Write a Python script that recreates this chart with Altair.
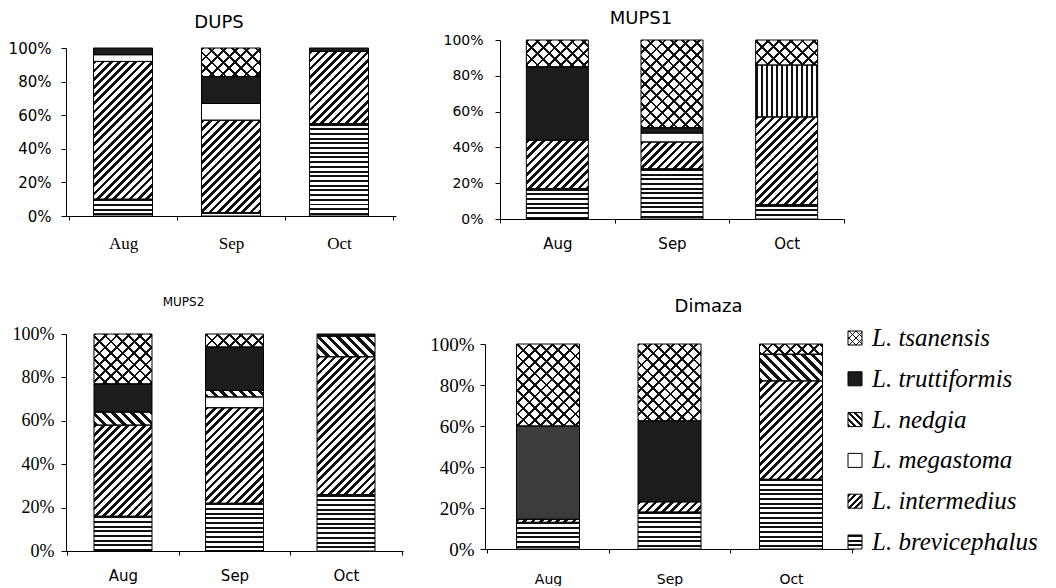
import math
import altair as alt
import pandas as pd

# ---------------- data (percent of catch) ----------------
MONTHS = ["Aug", "Sep", "Oct"]
SPECIES = ["L. brevicephalus", "L. intermedius", "L. megastoma",
           "L. nedgia", "L. truttiformis", "L. tsanensis"]   # stack order, bottom -> top
LEGEND_ORDER = SPECIES[::-1]
Y_TICKS = [0, 20, 40, 60, 80, 100]

DUPS = {
    "L. brevicephalus": [10, 2, 55],
    "L. intermedius":   [82, 55, 43],
    "L. megastoma":     [4, 10, 0],
    "L. nedgia":        [0, 0, 0],
    "L. truttiformis":  [4, 16, 2],
    "L. tsanensis":     [0, 17, 0],
}
MUPS1 = {
    "L. brevicephalus": [17, 28, 8],
    "L. intermedius":   [27, 15, 49],
    "L. megastoma":     [0, 5, 0],
    "L. nedgia":        [0, 0, 29],
    "L. truttiformis":  [41, 3, 0],
    "L. tsanensis":     [15, 49, 14],
}
MUPS2 = {
    "L. brevicephalus": [16, 22, 26],
    "L. intermedius":   [42, 44, 63.5],
    "L. megastoma":     [0, 5, 0],
    "L. nedgia":        [6, 3, 9.5],
    "L. truttiformis":  [13, 20, 1],
    "L. tsanensis":     [23, 6, 0],
}
DIMAZA = {
    "L. brevicephalus": [13, 18, 34],
    "L. intermedius":   [1.5, 5, 48],
    "L. megastoma":     [0, 0, 0],
    "L. nedgia":        [0, 0, 13],
    "L. truttiformis":  [45.5, 39.5, 0],
    "L. tsanensis":     [40, 37.5, 5],
}

# ---------------- styles ----------------
PATTERN = {
    "L. brevicephalus": "hstripe",
    "L. intermedius": "fdiag",
    "L. megastoma": "white",
    "L. nedgia": "bdiag",
    "L. truttiformis": "dark",
    "L. tsanensis": "cross",
}
PATTERN_OVERRIDE = {
    ("MUPS1", "Oct", "L. nedgia"): "vstripe",
    ("Dimaza", "Aug", "L. truttiformis"): "darkgray",
}
INK = "#111111"
CLEAR = "rgba(255,255,255,0)"


def stripe_stops(n, ink, bg, duty):
    stops = []
    i = 0
    while i / n < 1:
        a = i / n
        b = min((i + duty) / n, 1.0)
        c = min((i + 1) / n, 1.0)
        stops += [(a, ink), (b, ink), (b, bg), (c, bg)]
        i += 1
    return [{"offset": round(o, 5), "color": col} for o, col in stops]


def grad(x1, y1, x2, y2, n, ink, bg, duty):
    return {"gradient": "linear", "x1": x1, "y1": y1, "x2": x2, "y2": y2,
            "stops": stripe_stops(max(n, 1.0), ink, bg, duty)}


def fills(pat, w, h, small=False):
    h = max(h, 0.5)
    r = h / w
    k = (1 + r) / (1 + r * r)
    if pat == "white":
        return ["white"]
    if pat == "dark":
        return ["#1c1c1c"]
    if pat == "darkgray":
        return ["#3c3c3c"]
    if pat == "hstripe":
        p = 4.7
        return [grad(0, 0, 0, 1, h / p, INK, "white", 0.42)]
    if pat == "vstripe":
        p = 5.0
        return [grad(0, 0, 1, 0, w / p, INK, "white", 0.5)]
    if pat == "fdiag":
        p = 4.6 if small else 5.8
        return [grad(0, 0, k, k * r, (w + h) / (p * math.sqrt(2)), INK, "white", 0.45)]
    if pat == "bdiag":
        p = 4.6 if small else 6.8
        return [grad(0, 1, k, 1 - k * r, (w + h) / (p * math.sqrt(2)), INK, "white", 0.45)]
    if pat == "cross":
        p = 5.0 if small else 8.2
        n = (w + h) / (p * math.sqrt(2))
        return ["white",
                grad(0, 0, k, k * r, n, INK, CLEAR, 0.24),
                grad(0, 1, k, 1 - k * r, n, INK, CLEAR, 0.24)]
    return ["white"]


SANS = "DejaVu Sans"
SERIF = "Liberation Serif"

PANELS = {
    "DUPS": dict(values=DUPS, width=330, height=176, yrange=[176, 8], span=168, bar=59,
                 po=0.028, title_size=18, title_offset=-6, title_dx=-12,
                 ylab_font=SANS, ylab_size=15, ylab_pad=10,
                 xlab_font=SERIF, xlab_size=17, xlab_pad=15),
    "MUPS1": dict(values=MUPS1, width=344, height=179, yrange=[179, 0], span=179, bar=62,
                  po=0.0, title_size=18, title_offset=-9, title_dx=-31,
                  ylab_font=SANS, ylab_size=14, ylab_pad=12,
                  xlab_font=SANS, xlab_size=15, xlab_pad=13),
    "MUPS2": dict(values=MUPS2, width=337, height=217, yrange=[217, 0], span=217, bar=58,
                  po=0.011, title_size=12, title_offset=7, title_dx=-51,
                  ylab_font=SERIF, ylab_size=18, ylab_pad=7,
                  xlab_font=SANS, xlab_size=15, xlab_pad=13),
    "Dimaza": dict(values=DIMAZA, width=369, height=215, yrange=[215, 10], span=205, bar=63,
                   po=0.0185, title_size=18, title_offset=4, title_dx=39,
                   ylab_font=SERIF, ylab_size=19, ylab_pad=6,
                   xlab_font=SANS, xlab_size=14, xlab_pad=19),
}


def panel(name):
    cfg = PANELS[name]
    vals = cfg["values"]
    rows = []
    for i, s in enumerate(SPECIES):
        for j, m in enumerate(MONTHS):
            rows.append({"month": m, "species": s, "order": i, "pct": vals[s][j]})
    df = pd.DataFrame(rows)

    x = alt.X("month:N", sort=MONTHS,
              scale=alt.Scale(paddingInner=0, paddingOuter=cfg["po"]),
              axis=alt.Axis(title=None, labelAngle=0, tickBand="extent", tickSize=4,
                            labelPadding=cfg["xlab_pad"], labelFont=cfg["xlab_font"],
                            labelFontSize=cfg["xlab_size"], labelColor="black",
                            domainColor="black", tickColor="black"))
    y = alt.Y("y0:Q", scale=alt.Scale(domain=[0, 100], range=cfg["yrange"], nice=False),
              axis=alt.Axis(title=None, values=Y_TICKS, labelExpr="datum.value + '%'",
                            grid=False, tickSize=5, labelPadding=cfg["ylab_pad"],
                            labelFont=cfg["ylab_font"], labelFontSize=cfg["ylab_size"],
                            labelColor="black", domainColor="black", tickColor="black"))
    y2 = alt.Y2("y1:Q")

    layers = []
    for s in SPECIES:
        for j, m in enumerate(MONTHS):
            pct = vals[s][j]
            if pct <= 0:
                continue
            h = pct / 100.0 * cfg["span"]
            pat = PATTERN_OVERRIDE.get((name, m, s), PATTERN[s])
            for f in fills(pat, cfg["bar"], h):
                layers.append(
                    alt.Chart().mark_bar(size=cfg["bar"], fill=f, strokeWidth=0)
                    .encode(x=x, y=y, y2=y2)
                    .transform_filter(f"datum.month == '{m}' && datum.species == '{s}'")
                )
    layers.append(
        alt.Chart().mark_bar(size=cfg["bar"], fillOpacity=0, stroke="black", strokeWidth=1)
        .encode(x=x, y=y, y2=y2)
        .transform_filter("datum.pct > 0")
    )
    return (
        alt.layer(*layers, data=df)
        .transform_stack(stack="pct", groupby=["month"],
                         sort=[alt.SortField(field="order", order="ascending")],
                         as_=["y0", "y1"])
        .properties(width=cfg["width"], height=cfg["height"],
                    title=alt.TitleParams(text=name, font=SANS, fontSize=cfg["title_size"],
                                          fontWeight="normal", color="black",
                                          anchor="middle", baseline="alphabetic",
                                          offset=cfg["title_offset"], dx=cfg["title_dx"]))
    )


def legend():
    ldf = pd.DataFrame({"species": LEGEND_ORDER})
    ly = alt.Y("species:N", sort=LEGEND_ORDER,
               scale=alt.Scale(domain=LEGEND_ORDER, range=[4, 208], padding=0), axis=None)
    layers = []
    for s in LEGEND_ORDER:
        for f in fills(PATTERN[s], 14, 14, small=True):
            layers.append(
                alt.Chart().mark_square(size=196, fill=f, strokeWidth=0, opacity=1)
                .encode(x=alt.value(1), y=ly)
                .transform_filter(f"datum.species == '{s}'")
            )
    layers.append(
        alt.Chart().mark_square(size=196, fillOpacity=0, stroke="black", strokeWidth=1)
        .encode(x=alt.value(1), y=ly)
    )
    layers.append(
        alt.Chart().mark_text(align="left", baseline="middle", font=SERIF,
                              fontStyle="italic", fontSize=25, color="black")
        .encode(x=alt.value(18), y=ly, text="species:N")
    )
    return alt.layer(*layers, data=ldf).properties(width=20, height=217)


row1 = alt.hconcat(panel("DUPS"), panel("MUPS1"), spacing=46)
row2 = alt.hconcat(panel("MUPS2"),
                   alt.hconcat(panel("Dimaza"), legend(), spacing=0, bounds="flush"),
                   spacing=26)

chart = (
    alt.vconcat(row1, row2, spacing=45)
    .properties(padding={"left": 0, "top": 2, "right": 0, "bottom": 0}, background="white")
    .configure_view(strokeWidth=0)
)

chart.save("out.html", embed_options={"renderer": "svg", "actions": False})
